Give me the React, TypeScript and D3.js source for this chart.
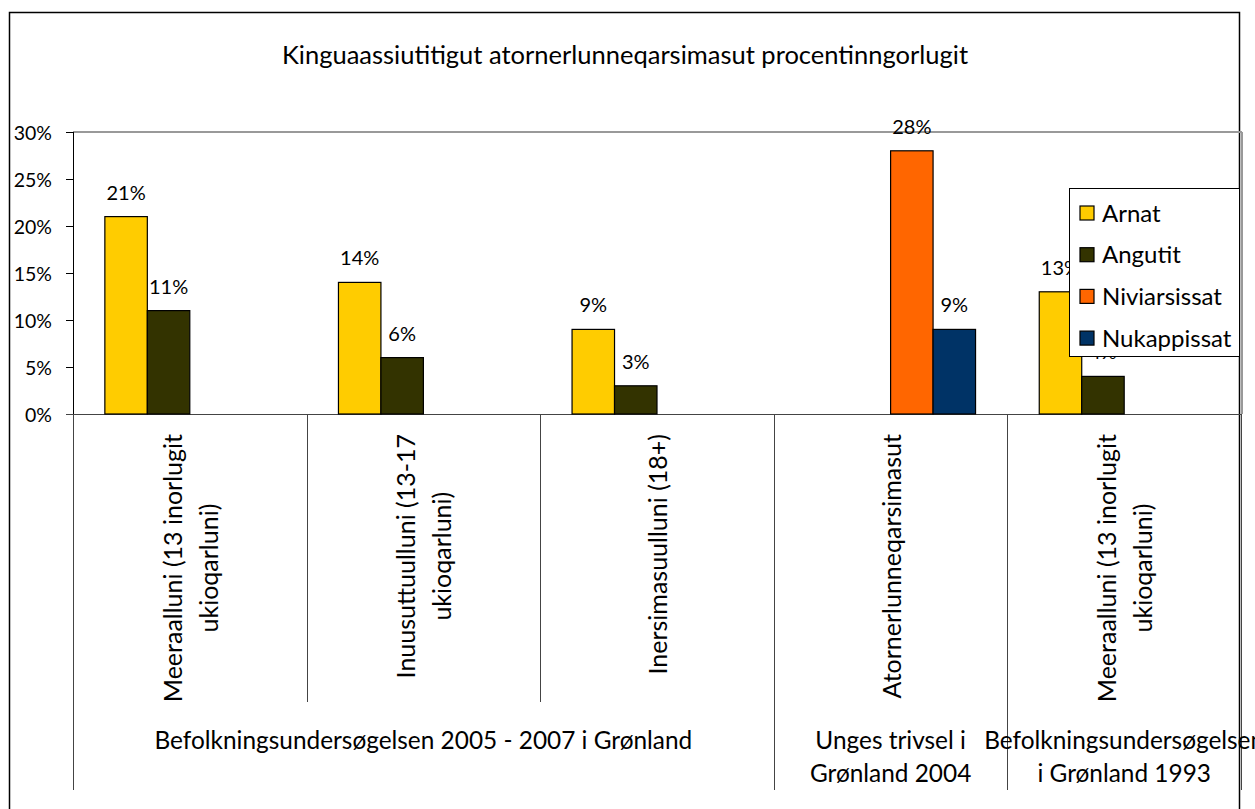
import React, { useEffect, useRef } from "react";
import * as d3 from "d3";

const title = "Kinguaassiutitigut atornerlunneqarsimasut procentinngorlugit";
const categories = [
  ["Meeraalluni (13 inorlugit", "ukioqarluni)"],
  ["Inuusuttuulluni (13-17", "ukioqarluni)"],
  ["Inersimasuulluni (18+)"],
  ["Atornerlunneqarsimasut"],
  ["Meeraalluni (13 inorlugit", "ukioqarluni)"],
];
const groups = [
  { lines: ["Befolkningsundersøgelsen 2005 - 2007 i Grønland"], from: 0, to: 2 },
  { lines: ["Unges trivsel i", "Grønland 2004"], from: 3, to: 3 },
  { lines: ["Befolkningsundersøgelsen", "i Grønland 1993"], from: 4, to: 4 },
];
const seriesNames = ["Arnat", "Angutit", "Niviarsissat", "Nukappissat"];
const seriesColors = ["#FFCC00", "#333300", "#FF6600", "#003366"];
const arnat = [0.21, 0.14, 0.09, null, 0.13];
const angutit = [0.11, 0.06, 0.03, null, 0.04];
const niviarsissat = [null, null, null, 0.28, null];
const nukappissat = [null, null, null, 0.09, null];
const yTicks = [0, 0.05, 0.1, 0.15, 0.2, 0.25, 0.3];

const FONT = "Lato, 'Open Sans', sans-serif";

export default function App() {
  const ref = useRef<SVGSVGElement>(null);
  useEffect(() => {
    const svg = d3.select(ref.current);
    svg.selectAll("*").remove();
    const W = 1255, H = 809;
    const left = 73, right = 1241, top = 132, bottom = 414;
    const seriesValues = [arnat, angutit, niviarsissat, nukappissat];

    const x0 = d3.scaleBand<number>().domain(categories.map((_, i) => i)).range([left, right]).padding(0);
    const x1 = d3.scaleBand<number>().domain(seriesNames.map((_, i) => i)).range([0, x0.bandwidth()]).paddingInner(0).paddingOuter(0.75);
    const y = d3.scaleLinear().domain([0, 0.3]).range([bottom, top]);

    svg.append("rect").attr("width", W).attr("height", H).attr("fill", "white");
    // outer border
    svg.append("rect").attr("x", 9.5).attr("y", 12.5).attr("width", 1230).attr("height", 830)
      .attr("fill", "none").attr("stroke", "#000").attr("stroke-width", 1.5);

    // title
    svg.append("text").attr("x", 625).attr("y", 64).attr("text-anchor", "middle")
      .attr("font-family", FONT).attr("font-size", 25.5).text(title);

    // plot border (gray)
    svg.append("line").attr("x1", left).attr("x2", right + 1).attr("y1", top).attr("y2", top)
      .attr("stroke", "#999").attr("stroke-width", 2);
    svg.append("line").attr("x1", right + 1).attr("x2", right + 1).attr("y1", top).attr("y2", bottom)
      .attr("stroke", "#999").attr("stroke-width", 2);

    // y axis
    svg.append("line").attr("x1", left + 0.5).attr("x2", left + 0.5).attr("y1", top).attr("y2", bottom)
      .attr("stroke", "#000").attr("stroke-width", 1);
    yTicks.forEach((t) => {
      const yy = Math.round(y(t)) + 0.5;
      svg.append("line").attr("x1", left - 7).attr("x2", left).attr("y1", yy).attr("y2", yy)
        .attr("stroke", "#000").attr("stroke-width", 1);
      svg.append("text").attr("x", 52).attr("y", yy + 7).attr("text-anchor", "end")
        .attr("font-family", FONT).attr("font-size", 19.5).text(d3.format(".0%")(t));
    });

    // x baseline
    svg.append("line").attr("x1", left - 7).attr("x2", right).attr("y1", bottom + 0.5).attr("y2", bottom + 0.5)
      .attr("stroke", "#444").attr("stroke-width", 1);

    // separators
    const groupBounds = new Set<number>();
    groups.forEach((g) => { groupBounds.add(g.from); groupBounds.add(g.to + 1); });
    for (let i = 0; i <= categories.length; i++) {
      const xx = i === categories.length ? right : (x0(i) as number);
      const isGroup = groupBounds.has(i);
      svg.append("line").attr("x1", Math.round(xx) + 0.5).attr("x2", Math.round(xx) + 0.5)
        .attr("y1", bottom).attr("y2", isGroup ? 790 : 702)
        .attr("stroke", "#444").attr("stroke-width", 1);
    }

    // bars
    seriesValues.forEach((vals, si) => {
      vals.forEach((v, ci) => {
        if (v == null) return;
        const bx = (x0(ci) as number) + (x1(si) as number);
        svg.append("rect").attr("x", bx).attr("y", y(v)).attr("width", x1.bandwidth()).attr("height", bottom - y(v))
          .attr("fill", seriesColors[si]).attr("stroke", "#000").attr("stroke-width", 1.2);
      });
    });
    // labels
    seriesValues.forEach((vals, si) => {
      vals.forEach((v, ci) => {
        if (v == null) return;
        const bx = (x0(ci) as number) + (x1(si) as number) + x1.bandwidth() / 2;
        svg.append("text").attr("x", bx).attr("y", y(v) - 17).attr("text-anchor", "middle")
          .attr("font-family", FONT).attr("font-size", 20).text(d3.format(".0%")(v));
      });
    });

    // category labels (rotated)
    const labelTop = 434;
    categories.forEach((lines, ci) => {
      const cx = (x0(ci) as number) + x0.bandwidth() / 2;
      const g = svg.append("g");
      const texts = lines.map((ln) => g.append("text").attr("font-family", FONT).attr("font-size", 25)
        .attr("text-anchor", "middle").text(ln));
      const maxW = d3.max(texts.map((t) => (t.node() as SVGTextElement).getComputedTextLength())) || 0;
      const cy = labelTop + maxW / 2;
      const n = lines.length;
      texts.forEach((t, li) => {
        const bxl = cx + 10 + (li - (n - 1) / 2) * 36;
        t.attr("transform", `translate(${bxl},${cy}) rotate(-90)`);
      });
    });

    // group labels
    groups.forEach((gr) => {
      const gx = ((x0(gr.from) as number) + (x0(gr.to) as number) + x0.bandwidth()) / 2;
      gr.lines.forEach((ln, li) => {
        svg.append("text").attr("x", gx).attr("y", 749 + li * 33).attr("text-anchor", "middle")
          .attr("font-family", FONT).attr("font-size", 24.4).text(ln);
      });
    });

    // legend
    const lg = svg.append("g");
    lg.append("rect").attr("x", 1069.5).attr("y", 188.5).attr("width", 170).attr("height", 168)
      .attr("fill", "white").attr("stroke", "#000").attr("stroke-width", 1);
    seriesNames.forEach((s, i) => {
      const ry = 213 + i * 41.7;
      lg.append("rect").attr("x", 1080).attr("y", ry - 7).attr("width", 14).attr("height", 14)
        .attr("fill", seriesColors[i]).attr("stroke", "#000").attr("stroke-width", 1.2);
      lg.append("text").attr("x", 1102).attr("y", ry + 8.5).attr("font-family", FONT).attr("font-size", 24).text(s);
    });
  }, []);
  return (
    <svg ref={ref} width={1255} height={809} style={{ position: "absolute", left: 0, top: 0, display: "block" }} />
  );
}
